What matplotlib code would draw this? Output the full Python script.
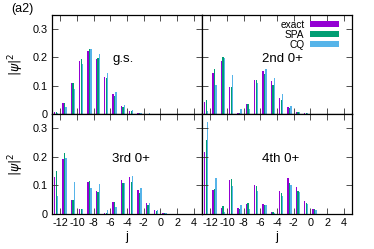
import matplotlib
matplotlib.use('Agg')
import matplotlib.pyplot as plt
import numpy as np

plt.rcParams['font.family'] = ['Liberation Sans', 'DejaVu Sans']

# bar centres (half-integer j) shared by all panels
j_vals = [-12.5, -11.5, -10.5, -9.5, -8.5, -7.5, -6.5, -5.5, -4.5, -3.5, -2.5, -1.5, -0.5, 0.5]

series = ['exact', 'SPA', 'CQ']
colors = ['#9400D3', '#009E73', '#56B4E9']

gs_exact = [0.006, 0.040, 0.110, 0.187, 0.222, 0.194, 0.131, 0.069, 0.029, 0.012, 0.004, 0.001, 0.0, 0.0]
gs_spa = [0.006, 0.039, 0.110, 0.194, 0.229, 0.198, 0.129, 0.063, 0.025, 0.009, 0.003, 0.001, 0.0, 0.0]
gs_cq = [0.002, 0.023, 0.089, 0.178, 0.229, 0.212, 0.145, 0.078, 0.033, 0.013, 0.005, 0.002, 0.0, 0.0]

s2_exact = [0.042, 0.146, 0.189, 0.095, 0.004, 0.034, 0.119, 0.151, 0.115, 0.058, 0.023, 0.008, 0.002, 0.0]
s2_spa = [0.049, 0.160, 0.202, 0.097, 0.004, 0.035, 0.119, 0.142, 0.104, 0.050, 0.020, 0.007, 0.002, 0.0]
s2_cq = [0.012, 0.102, 0.198, 0.139, 0.018, 0.018, 0.111, 0.158, 0.126, 0.069, 0.027, 0.008, 0.002, 0.0]

s3_exact = [0.128, 0.192, 0.049, 0.017, 0.112, 0.080, 0.003, 0.041, 0.118, 0.128, 0.083, 0.037, 0.014, 0.003]
s3_spa = [0.149, 0.213, 0.049, 0.017, 0.114, 0.076, 0.004, 0.041, 0.110, 0.112, 0.072, 0.030, 0.010, 0.002]
s3_cq = [0.063, 0.195, 0.112, 0.019, 0.092, 0.106, 0.013, 0.024, 0.110, 0.133, 0.091, 0.038, 0.014, 0.003]

s4_exact = [0.218, 0.083, 0.020, 0.120, 0.021, 0.035, 0.101, 0.035, 0.007, 0.079, 0.125, 0.094, 0.044, 0.019]
s4_spa = [0.259, 0.087, 0.028, 0.124, 0.019, 0.037, 0.097, 0.031, 0.007, 0.072, 0.108, 0.079, 0.037, 0.017]
s4_cq = [0.323, 0.127, 0.006, 0.097, 0.031, 0.019, 0.080, 0.033, 0.005, 0.063, 0.100, 0.076, 0.035, 0.014]

panels = [
    ('g.s.', [gs_exact, gs_spa, gs_cq]),
    ('2nd 0+', [s2_exact, s2_spa, s2_cq]),
    ('3rd 0+', [s3_exact, s3_spa, s3_cq]),
    ('4th 0+', [s4_exact, s4_spa, s4_cq]),
]

xticks = [-12, -10, -8, -6, -4, -2, 0, 2, 4]
yticks = [0, 0.1, 0.2, 0.3]
ytick_labels = ['0', '0.1', '0.2', '0.3']

fig = plt.figure(figsize=(3.74, 2.49), dpi=100)
x0, xm, x1 = 52 / 374, 202 / 374, 352 / 374
yb, ym, yt = 1 - 214 / 249, 1 - 114 / 249, 1 - 15 / 249
rects = [
    [x0, ym, xm - x0, yt - ym],
    [xm, ym, x1 - xm, yt - ym],
    [x0, yb, xm - x0, ym - yb],
    [xm, yb, x1 - xm, ym - yb],
]

x = np.array(j_vals)
bw = 0.16
offs = [-0.19, 0.0, 0.19]

for k, (name, vals) in enumerate(panels):
    ax = fig.add_axes(rects[k])
    for s in range(3):
        ax.bar(x + offs[s], vals[s], width=bw, color=colors[s], linewidth=0,
               label=series[s])
    ax.set_xlim(-13, 5)
    ax.set_ylim(0, 0.35)
    ax.set_xticks(xticks)
    ax.set_yticks(yticks)
    ax.tick_params(direction='in', length=4, width=0.6, top=True, right=True,
                   labelsize=7.8, pad=3, color='#333333')
    for sp in ax.spines.values():
        sp.set_linewidth(0.9)
    if k >= 2:
        ax.set_xticklabels([str(t) for t in xticks])
        ax.set_xlabel('j', fontsize=9, labelpad=2)
    else:
        ax.set_xticklabels([])
    if k % 2 == 0:
        ax.set_yticklabels(ytick_labels)
        ax.set_ylabel(r'$|\psi|^2$', fontsize=9, labelpad=5)
    else:
        ax.set_yticklabels([])
    ax.text(0.40, 0.555, name, transform=ax.transAxes, fontsize=9.5,
            ha='left', va='center')
    if k == 1:
        ax.legend(loc='upper right', bbox_to_anchor=(0.933, 0.985),
                  frameon=False, markerfirst=False,
                  fontsize=7.3, handlelength=2.9, handleheight=0.5,
                  labelspacing=0.0, handletextpad=0.5, borderaxespad=0.0,
                  borderpad=0.3)

fig.text(0.03, 0.963, '(a2)', fontsize=9, ha='left', va='center')

fig.savefig('out.png', dpi=100)
